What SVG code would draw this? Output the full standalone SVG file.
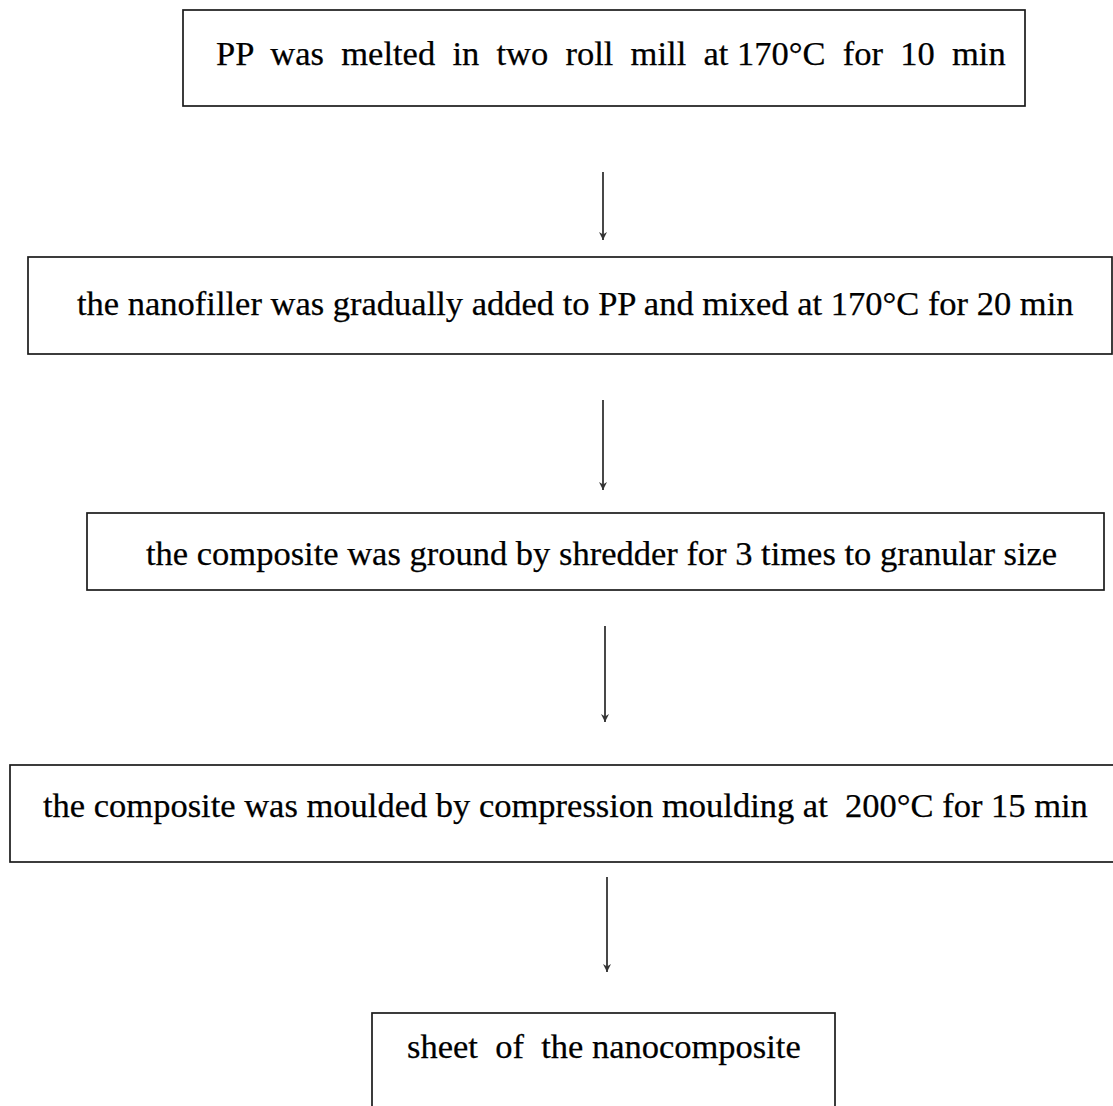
<svg xmlns="http://www.w3.org/2000/svg" width="1113" height="1106" viewBox="0 0 1113 1106">
<defs>
<style>
.box{fill:#fff;stroke:#1a1a1a;stroke-width:1.7}
.lbl{font-family:"Liberation Serif","Times New Roman",serif;font-size:34.5px;fill:#000;stroke:#000;stroke-width:0.25}
.conn{stroke:#1a1a1a;stroke-width:1.6;fill:none}
</style>
<marker id="ah" viewBox="0 0 8 8" refX="8" refY="4" markerWidth="8" markerHeight="8" markerUnits="userSpaceOnUse" orient="auto">
<path d="M0,0 L8,4 L0,8 L2.5,4 Z" fill="#333"/>
</marker>
</defs>
<rect width="1113" height="1106" fill="#fff"/>
<g id="node1"><rect class="box" x="183" y="10" width="842" height="96"/><text class="lbl" x="216" y="65" xml:space="preserve">PP  was  melted  in  two  roll  mill  at 170°C  for  10  min</text></g>
<g id="node2"><rect class="box" x="28" y="257" width="1084" height="97"/><text class="lbl" x="77" y="315">the nanofiller was gradually added to PP and mixed at 170°C for 20 min</text></g>
<g id="node3"><rect class="box" x="87" y="513" width="1017" height="77"/><text class="lbl" x="146" y="565">the composite was ground by shredder for 3 times to granular size</text></g>
<g id="node4"><rect class="box" x="10" y="765" width="1115" height="97"/><text class="lbl" x="43" y="817" xml:space="preserve">the composite was moulded by compression moulding at  200°C for 15 min</text></g>
<g id="node5"><rect class="box" x="372" y="1013" width="463" height="110"/><text class="lbl" x="407" y="1058" xml:space="preserve">sheet  of  the nanocomposite</text></g>
<g id="connectors">
<line class="conn" x1="603" y1="172" x2="603" y2="240" marker-end="url(#ah)"/>
<line class="conn" x1="603" y1="400" x2="603" y2="490" marker-end="url(#ah)"/>
<line class="conn" x1="605" y1="626" x2="605" y2="722" marker-end="url(#ah)"/>
<line class="conn" x1="607" y1="877" x2="607" y2="972" marker-end="url(#ah)"/>
</g>
</svg>
